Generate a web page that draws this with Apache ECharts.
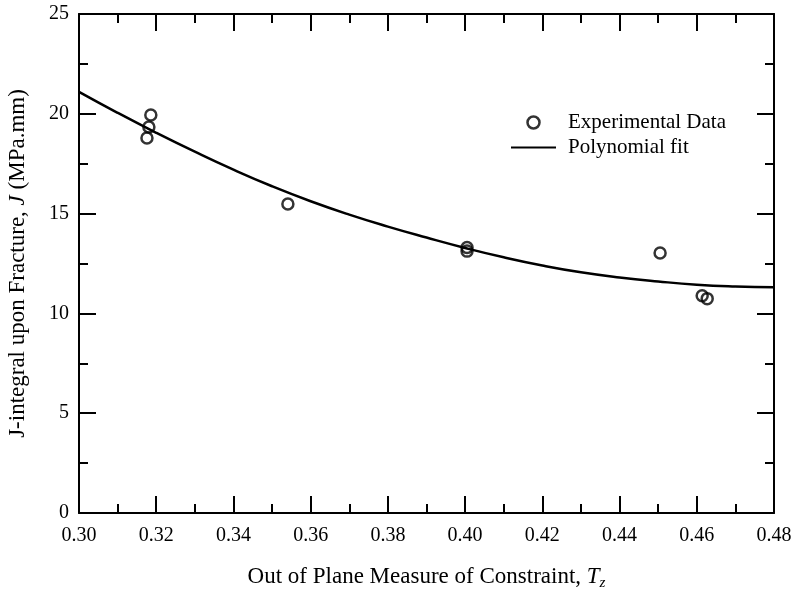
<!DOCTYPE html>
<html>
<head>
<meta charset="utf-8">
<script src="https://cdn.jsdelivr.net/npm/echarts@6/dist/echarts.min.js"></script>
<style>
  html, body { margin: 0; padding: 0; background: #fff; }
  #chart { width: 792px; height: 595px; }
</style>
</head>
<body>
<div id="chart"></div>
<script>
// measured points: constraint Tz vs J at fracture
const expTz = [0.3186, 0.3181, 0.3176, 0.3541, 0.4005, 0.4005, 0.4505, 0.4614, 0.4627]
const expJ = [19.94, 19.34, 18.79, 15.48, 13.30, 13.12, 13.03, 10.88, 10.74]

// polynomial fit curve
const fitTz = [0.30, 0.31, 0.32, 0.33, 0.34, 0.35, 0.36, 0.37, 0.38, 0.39,
  0.40, 0.41, 0.42, 0.43, 0.44, 0.45, 0.46, 0.47, 0.48]
const fitJ = [21.1, 20.05, 19.05, 18.1, 17.2, 16.37, 15.62, 14.95, 14.35, 13.8,
  13.28, 12.81, 12.4, 12.06, 11.8, 11.6, 11.44, 11.35, 11.31]

const FONT = 'Liberation Serif'

const chart = echarts.init(document.getElementById('chart'))

const tickCommon = {
  axisLine: { onZero: false, lineStyle: { color: '#000', width: 2 } },
  axisTick: { inside: true, length: 17, lineStyle: { color: '#000', width: 2 } },
  minorTick: { show: true, splitNumber: 2, length: 9, lineStyle: { color: '#000', width: 2 } },
  splitLine: { show: false },
}

chart.setOption({
  backgroundColor: '#fff',
  animation: false,
  textStyle: { fontFamily: FONT, color: '#000' },
  grid: { left: 79, right: 18, top: 14, bottom: 82, outerBoundsMode: 'none' },
  legend: {
    orient: 'vertical',
    left: 510,
    top: 112,
    padding: 0,
    itemWidth: 45,
    itemHeight: 12,
    itemGap: 4,
    textStyle: { fontFamily: FONT, fontSize: 21, lineHeight: 21, color: '#000', padding: [0, 0, 0, 7] },
    data: [
      {
        name: 'Experimental Data',
        icon: 'circle',
        itemStyle: { color: 'rgba(0,0,0,0)', borderColor: '#000', borderWidth: 2.5 },
      },
      { name: 'Polynomial fit', itemStyle: { opacity: 0 } },
    ],
  },
  xAxis: [
    {
      type: 'value',
      min: 0.30,
      max: 0.48,
      interval: 0.02,
      ...tickCommon,
      axisLabel: {
        color: '#000', fontFamily: FONT, fontSize: 20, margin: 13,
        formatter: (v) => v.toFixed(2),
      },
      name: '{n|Out of Plane Measure of Constraint, }{i|T}{s|z}',
      nameLocation: 'middle',
      nameGap: 49,
      nameTextStyle: {
        rich: {
          n: { fontFamily: FONT, fontSize: 23, color: '#000' },
          i: { fontFamily: FONT, fontSize: 23, fontStyle: 'italic', color: '#000' },
          s: { fontFamily: FONT, fontSize: 15, fontStyle: 'italic', color: '#000', padding: [14, 0, 0, 0] },
        },
      },
    },
    {
      type: 'value',
      position: 'top',
      min: 0.30,
      max: 0.48,
      interval: 0.02,
      ...tickCommon,
      axisLabel: { show: false },
    },
  ],
  yAxis: [
    {
      type: 'value',
      min: 0,
      max: 25,
      interval: 5,
      ...tickCommon,
      axisLabel: { color: '#000', fontFamily: FONT, fontSize: 20, margin: 10 },
      name: '{n|J-integral upon Fracture, }{i|J}{n| (MPa.mm)}',
      nameLocation: 'middle',
      nameGap: 50,
      nameTextStyle: {
        rich: {
          n: { fontFamily: FONT, fontSize: 23, color: '#000' },
          i: { fontFamily: FONT, fontSize: 23, fontStyle: 'italic', color: '#000' },
        },
      },
    },
    {
      type: 'value',
      position: 'right',
      min: 0,
      max: 25,
      interval: 5,
      ...tickCommon,
      axisLabel: { show: false },
    },
  ],
  series: [
    {
      name: 'Experimental Data',
      type: 'scatter',
      symbol: 'circle',
      symbolSize: 11,
      itemStyle: { color: 'rgba(0,0,0,0)', borderColor: '#000', borderWidth: 2.5 },
      data: expTz.map((t, i) => [t, expJ[i]]),
      z: 3,
    },
    {
      name: 'Polynomial fit',
      type: 'line',
      smooth: true,
      symbol: 'none',
      lineStyle: { color: '#000', width: 2.5 },
      itemStyle: { color: '#000' },
      data: fitTz.map((t, i) => [t, fitJ[i]]),
      z: 2,
    },
  ],
})
</script>
</body>
</html>
